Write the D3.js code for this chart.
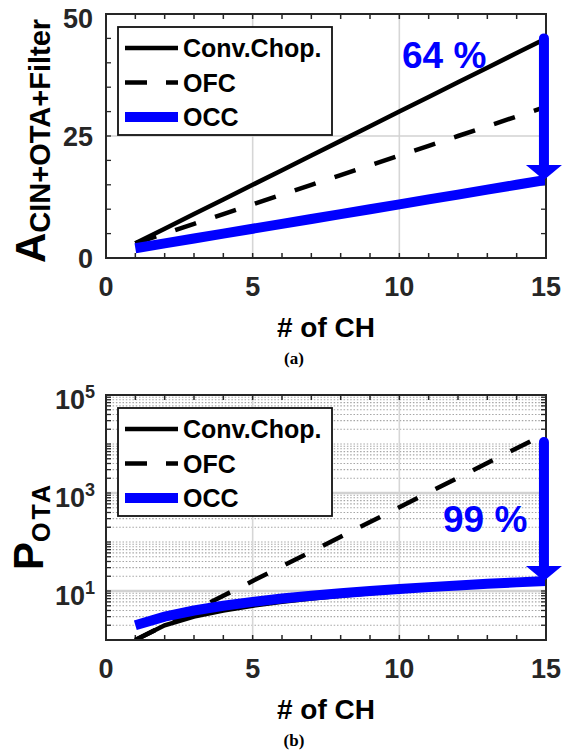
<!DOCTYPE html>
<html>
<head>
<meta charset="utf-8">
<script src="https://cdn.jsdelivr.net/npm/d3@7/dist/d3.min.js"></script>
<style>
  body { margin: 0; background: #fff; }
  text { font-family: "Liberation Sans", Arial, sans-serif; font-weight: bold; }
</style>
</head>
<body>
<div id="chart"></div>
<script>
// Number of channels (x values)
const channels = [1, 2, 3, 4, 5, 6, 7, 8, 9, 10, 11, 12, 13, 14, 15];

// Panel (a): area CIN+OTA+Filter
const areaConvChop = [3, 6, 9, 12, 15, 18, 21, 24, 27, 30, 33, 36, 39, 42, 45];
const areaOFC = [3, 5, 7, 9, 11, 13, 15, 17, 19, 21, 23, 25, 27, 29, 31];
const areaOCC = [2, 3, 4, 5, 6, 7, 8, 9, 10, 11, 12, 13, 14, 15, 16];

// Panel (b): OTA power (log scale)
const powerConvChop = [1, 2, 3, 4, 5, 6, 7, 8, 9, 10, 11, 12, 13, 14, 15];
const powerOFC = [1, 2, 4, 8, 16, 32, 64, 128, 256, 512, 1024, 2048, 4096, 8192, 16384];
const powerOCC = [2, 3, 4, 5, 6, 7, 8, 9, 10, 11, 12, 13, 14, 15, 16];

const seriesNames = ["Conv.Chop.", "OFC", "OCC"];
const xTickValues = [0, 5, 10, 15];
const areaTickValues = [0, 25, 50];
const powerTickValues = [10, 1000, 100000];
const powerTickExponents = ["1", "3", "5"];

// Reduction arrows (x, from value, to value) and labels
const areaArrow = [14.93, 45, 16];
const powerArrow = [14.93, 11000, 16];
const areaReduction = "64 %";
const powerReduction = "99 %";

const W = 564, H = 751;
const axisColor = "#262626";
const blue = "#0000ff";

const svg = d3.select("#chart")
    .append("svg")
    .attr("width", W)
    .attr("height", H);

// Shared x scale
const left = 106, right = 546;
const x = d3.scaleLinear().domain([0, 15]).range([left, right]);

// Series styles
const styles = [
    {color: "#000", width: 4.5, dash: null},
    {color: "#000", width: 4.5, dash: "22,20"},
    {color: blue, width: 10, dash: null}
];

function drawPanel(cfg) {
    const y = cfg.y;
    const top = y.range()[1], bottom = y.range()[0];
    const g = svg.append("g");

    // clip for data lines
    g.append("clipPath").attr("id", cfg.id)
        .append("rect")
        .attr("x", left).attr("y", top)
        .attr("width", right - left).attr("height", bottom - top);

    // minor grid (log panel only)
    if (cfg.minorGrid) {
        g.selectAll(".mgrid")
            .data(cfg.minorGrid)
            .enter().append("line")
            .attr("x1", left).attr("x2", right)
            .attr("y1", d => y(d)).attr("y2", d => y(d))
            .attr("stroke", "#a6a6a6")
            .attr("stroke-width", 1.1)
            .attr("stroke-dasharray", "1.5,1.8");
    }

    // major grid
    g.selectAll(".xgrid")
        .data(xTickValues.slice(1, -1))
        .enter().append("line")
        .attr("x1", d => x(d)).attr("x2", d => x(d))
        .attr("y1", top).attr("y2", bottom)
        .attr("stroke", "#d6d6d6")
        .attr("stroke-width", 1.6);

    g.selectAll(".ygrid")
        .data(cfg.yTicks.filter(d => y(d) > top + 1 && y(d) < bottom - 1))
        .enter().append("line")
        .attr("x1", left).attr("x2", right)
        .attr("y1", d => y(d)).attr("y2", d => y(d))
        .attr("stroke", "#d2d2d2")
        .attr("stroke-width", cfg.minorGrid ? 2.4 : 1.6);

    // ticks (inward, all four sides)
    const xTicksAll = d3.range(0, 16);
    xTicksAll.forEach(function(t) {
        g.append("line").attr("x1", x(t)).attr("x2", x(t))
            .attr("y1", bottom).attr("y2", bottom - 5)
            .attr("stroke", axisColor).attr("stroke-width", 1.5);
        g.append("line").attr("x1", x(t)).attr("x2", x(t))
            .attr("y1", top).attr("y2", top + 5)
            .attr("stroke", axisColor).attr("stroke-width", 1.5);
    });
    cfg.yTicksAll.forEach(function(t) {
        g.append("line").attr("x1", left).attr("x2", left + 5)
            .attr("y1", y(t)).attr("y2", y(t))
            .attr("stroke", axisColor).attr("stroke-width", 1.3);
        g.append("line").attr("x1", right).attr("x2", right - 5)
            .attr("y1", y(t)).attr("y2", y(t))
            .attr("stroke", axisColor).attr("stroke-width", 1.3);
    });

    // data lines
    const line = d3.line()
        .x((d, i) => x(channels[i]))
        .y(d => y(d));

    cfg.series.forEach(function(values, i) {
        g.append("path")
            .datum(values)
            .attr("clip-path", "url(#" + cfg.id + ")")
            .attr("d", line)
            .attr("fill", "none")
            .attr("stroke", styles[i].color)
            .attr("stroke-width", styles[i].width)
            .attr("stroke-dasharray", styles[i].dash);
    });

    // axes box
    g.append("rect")
        .attr("x", left).attr("y", top)
        .attr("width", right - left).attr("height", bottom - top)
        .attr("fill", "none")
        .attr("stroke", axisColor)
        .attr("stroke-width", 2);

    // x tick labels
    g.selectAll(".xlab")
        .data(xTickValues)
        .enter().append("text")
        .attr("x", d => x(d))
        .attr("y", bottom + 38)
        .attr("text-anchor", "middle")
        .attr("font-size", 27)
        .attr("fill", axisColor)
        .text(d => d);

    // x axis label
    g.append("text")
        .attr("x", (left + right) / 2)
        .attr("y", bottom + 79)
        .attr("text-anchor", "middle")
        .attr("font-size", 28)
        .attr("fill", "#000")
        .text("# of CH");

    // y tick labels
    cfg.yLabels(g, y);

    // y axis label (rotated, with subscript)
    const yl = g.append("text")
        .attr("transform", "translate(" + cfg.yLabel.x + "," + cfg.yLabel.y + ") rotate(-90)")
        .attr("fill", "#000");
    yl.append("tspan").attr("font-size", 42).text(cfg.yLabel.main);
    yl.append("tspan")
        .attr("font-size", cfg.yLabel.subSize)
        .attr("dy", cfg.yLabel.subDy)
        .attr("letter-spacing", cfg.yLabel.spacing)
        .text(cfg.yLabel.sub);

    // legend
    const lx = 118, ly = top + 13;
    g.append("rect")
        .attr("x", lx).attr("y", ly)
        .attr("width", 214).attr("height", 108)
        .attr("fill", "#fff")
        .attr("stroke", "#111")
        .attr("stroke-width", 1.8);

    const legend = g.selectAll(".legend")
        .data(seriesNames)
        .enter().append("g")
        .attr("transform", (d, i) => "translate(0," + (ly + 21 + i * 34.5) + ")");

    legend.append("line")
        .attr("x1", lx + 7).attr("x2", lx + 60)
        .attr("y1", 0).attr("y2", 0)
        .attr("stroke", (d, i) => styles[i].color)
        .attr("stroke-width", (d, i) => styles[i].width)
        .attr("stroke-dasharray", (d, i) => i === 1 ? "22,19" : null);

    legend.append("text")
        .attr("x", lx + 65)
        .attr("y", 0)
        .attr("dy", "0.36em")
        .attr("font-size", 25)
        .attr("fill", "#000")
        .text(d => d);

    // reduction arrow
    const ax = x(cfg.arrow[0]);
    const yTip = y(cfg.arrow[2]);
    g.append("line")
        .attr("x1", ax).attr("x2", ax)
        .attr("y1", y(cfg.arrow[1])).attr("y2", yTip - 14)
        .attr("stroke", blue)
        .attr("stroke-width", 10)
        .attr("stroke-linecap", "round");
    g.append("path")
        .attr("d", "M" + (ax - 18) + "," + (yTip - 15) + "L" + (ax + 18) + "," + (yTip - 15) + "L" + ax + "," + yTip + "Z")
        .attr("fill", blue);

    g.append("text")
        .attr("x", cfg.note.x)
        .attr("y", cfg.note.y)
        .attr("font-size", 37)
        .attr("fill", blue)
        .text(cfg.note.text);

    // caption
    g.append("text")
        .attr("x", 294)
        .attr("y", bottom + cfg.captionDy)
        .attr("text-anchor", "middle")
        .style("font-family", "'Liberation Serif', 'Times New Roman', serif")
        .attr("font-size", 17)
        .attr("fill", "#000")
        .text(cfg.caption);
}

// ---- Panel (a)
const yA = d3.scaleLinear().domain([0, 50]).range([258, 14]);
drawPanel({
    id: "clipA",
    y: yA,
    yTicks: areaTickValues,
    yTicksAll: d3.range(0, 51, 5),
    series: [areaConvChop, areaOFC, areaOCC],
    yLabels: function(g, y) {
        g.selectAll(".ylab")
            .data(areaTickValues)
            .enter().append("text")
            .attr("x", 93)
            .attr("y", d => y(d) + (d === 50 ? 4 : 0))
            .attr("dy", "0.36em")
            .attr("text-anchor", "end")
            .attr("font-size", 27)
            .attr("fill", axisColor)
            .text(d => d);
    },
    yLabel: {x: 45, y: 263, main: "A", sub: "CIN+OTA+Filter", subSize: 29, subDy: 5, spacing: 0},
    arrow: areaArrow,
    note: {x: 402, y: 68, text: areaReduction},
    caption: "(a)",
    captionDy: 106
});

// ---- Panel (b)
const yB = d3.scaleLog().domain([1, 100000]).range([640, 395]);
const minorB = [];
[1, 10, 100, 1000, 10000].forEach(function(dec) {
    for (let k = 1; k <= 9; k++) {
        const v = dec * k;
        if (v > 1 && powerTickValues.indexOf(v) < 0) minorB.push(v);
    }
});
drawPanel({
    id: "clipB",
    y: yB,
    yTicks: powerTickValues,
    yTicksAll: minorB.concat(powerTickValues),
    minorGrid: minorB,
    series: [powerConvChop, powerOFC, powerOCC],
    yLabels: function(g, y) {
        const lab = g.selectAll(".ylab")
            .data(powerTickValues)
            .enter().append("text")
            .attr("x", 95)
            .attr("y", d => y(d) + 14)
            .attr("text-anchor", "end")
            .attr("fill", axisColor);
        lab.append("tspan").attr("font-size", 27).text("10");
        lab.append("tspan")
            .attr("font-size", 18)
            .attr("dy", -11)
            .text((d, i) => powerTickExponents[i]);
    },
    yLabel: {x: 43, y: 570, main: "P", sub: "OTA", subSize: 25, subDy: 7, spacing: 3},
    arrow: powerArrow,
    note: {x: 443, y: 532, text: powerReduction},
    caption: "(b)",
    captionDy: 106
});
</script>
</body>
</html>
